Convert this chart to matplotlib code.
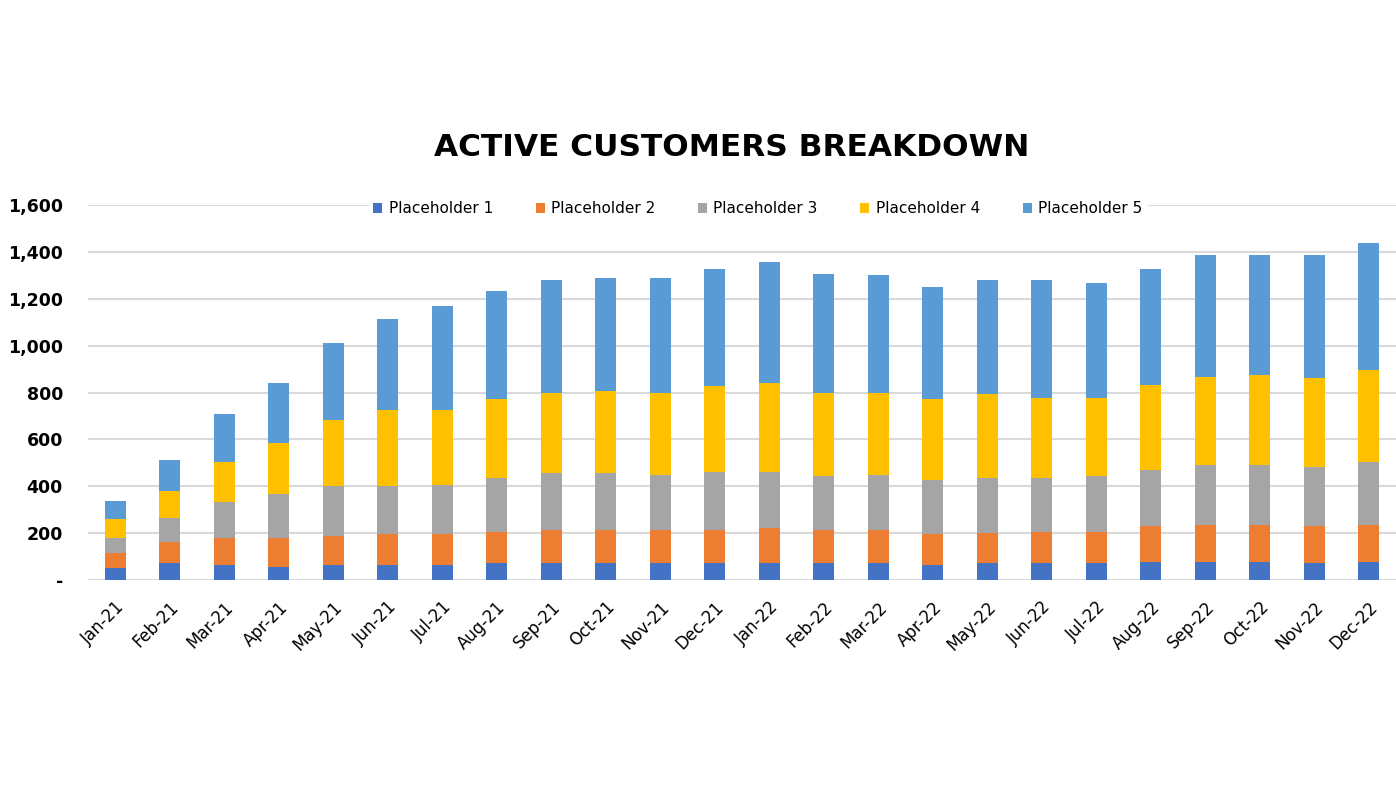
import matplotlib.pyplot as plt
import numpy as np

months = ['Jan-21', 'Feb-21', 'Mar-21', 'Apr-21', 'May-21', 'Jun-21', 'Jul-21', 'Aug-21',
          'Sep-21', 'Oct-21', 'Nov-21', 'Dec-21', 'Jan-22', 'Feb-22', 'Mar-22', 'Apr-22',
          'May-22', 'Jun-22', 'Jul-22', 'Aug-22', 'Sep-22', 'Oct-22', 'Nov-22', 'Dec-22']

p1 = [50, 71, 65, 57, 65, 65, 65, 71, 71, 71, 71, 71, 71, 71, 71, 64, 71, 71, 71, 78, 78, 78, 71, 78]
p2 = [64, 90, 116, 124, 124, 130, 130, 135, 144, 144, 144, 144, 152, 144, 144, 132, 131, 135, 135, 152, 157, 157, 159, 157]
p3 = [67, 104, 152, 186, 212, 206, 210, 231, 241, 241, 233, 247, 239, 227, 233, 233, 235, 231, 236, 241, 256, 256, 253, 270]
p4 = [78, 116, 172, 219, 282, 324, 320, 335, 343, 350, 351, 366, 378, 357, 351, 343, 356, 342, 337, 362, 376, 384, 379, 391]
p5 = [79, 130, 205, 254, 330, 391, 445, 460, 481, 481, 488, 500, 517, 509, 502, 479, 487, 501, 487, 495, 522, 514, 527, 542]

series = [p1, p2, p3, p4, p5]
names = ['Placeholder 1', 'Placeholder 2', 'Placeholder 3', 'Placeholder 4', 'Placeholder 5']
colors = ['#4472C4', '#ED7D31', '#A5A5A5', '#FFC000', '#5B9BD5']

fig = plt.figure(figsize=(13.96, 7.86), dpi=100)
ax = fig.add_axes([0.063, 0.262, 0.937, 0.477])

x = np.arange(len(months))
bottom = np.zeros(len(months))
for vals, name, col in zip(series, names, colors):
    ax.bar(x, vals, width=0.39, bottom=bottom, color=col, label=name, zorder=3)
    bottom += np.array(vals)

ax.set_xlim(-0.5, len(months) - 0.5)
ax.set_ylim(0, 1600)
ax.set_yticks(range(0, 1601, 200))
ax.set_yticklabels(['-'] + [f'{v:,}' for v in range(200, 1601, 200)],
                   fontsize=12.5, fontweight='bold')
ax.set_xticks(x)
ax.set_xticklabels(months, rotation=45, ha='right', rotation_mode='anchor', fontsize=12)
ax.tick_params(axis='both', length=0)
ax.tick_params(axis='y', pad=18)
ax.tick_params(axis='x', pad=13)
ax.grid(axis='y', color='#d9d9d9', linewidth=1.5, zorder=0)
for s in ax.spines.values():
    s.set_visible(False)

leg = ax.legend(loc='center', bbox_to_anchor=(0.512, 0.99), ncol=5, frameon=True,
                fontsize=11, handlelength=0.6, handleheight=0.6, columnspacing=2.8,
                handletextpad=0.4, borderpad=0.3)
leg.get_frame().set_facecolor('white')
leg.get_frame().set_edgecolor('white')
leg.get_frame().set_alpha(1)

fig.text(0.524, 0.812, 'ACTIVE CUSTOMERS BREAKDOWN', ha='center', va='center',
         fontsize=22.5, fontweight='bold')

fig.savefig('out.png', dpi=100)
